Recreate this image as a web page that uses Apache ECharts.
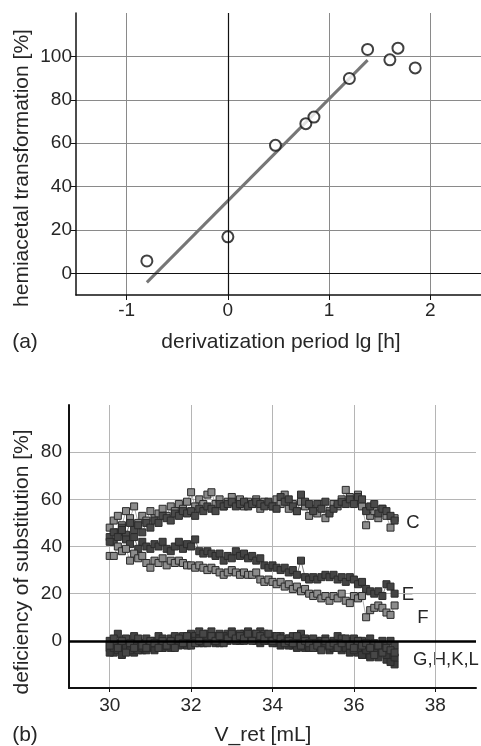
<!DOCTYPE html>
<html>
<head>
<meta charset="utf-8">
<script src="https://cdn.jsdelivr.net/npm/echarts@6/dist/echarts.min.js"></script>
<style>html,body{margin:0;padding:0;background:#fff;}#c{width:481px;height:746px;}</style>
</head>
<body>
<div id="c"></div>
<script>
// ---- Panel (a) data ----
var aPeriod = [-0.80, 0.00, 0.47, 0.77, 0.85, 1.20, 1.38, 1.60, 1.68, 1.85];
var aTransform = [5.7, 16.8, 59, 69, 72, 89.8, 103.2, 98.4, 103.8, 94.7];
var aFitX = [-0.80, 1.38];
var aFitY = [-4.2, 98.3];
var aXTicks = [-1, 0, 1, 2];
var aYTicks = [0, 20, 40, 60, 80, 100];

// ---- Panel (b) data ----
var bVret = [30.0,30.1,30.2,30.3,30.4,30.5,30.6,30.7,30.8,30.9,31.0,31.1,31.2,31.3,31.4,31.5,31.6,31.7,31.8,31.9,32.0,32.1,32.2,32.3,32.4,32.5,32.6,32.7,32.8,32.9,33.0,33.1,33.2,33.3,33.4,33.5,33.6,33.7,33.8,33.9,34.0,34.1,34.2,34.3,34.4,34.5,34.6,34.7,34.8,34.9,35.0,35.1,35.2,35.3,35.4,35.5,35.6,35.7,35.8,35.9,36.0,36.1,36.2,36.3,36.4,36.5,36.6,36.7,36.8,36.9,37.0];
var bC1 = [48,51,53,49,55,52,57,50,53,51,55,52,54,56,53,57,55,58,56,59,63,57,60,58,62,63,58,60,57,59,61,58,60,57,59,58,60,56,59,58,57,60,58,62,56,58,55,59,57,53,56,54,58,52,55,58,57,60,64,61,59,62,57,49,53,55,52,56,53,48,52];
var bC2 = [44,42,46,48,45,50,47,49,46,50,48,51,50,53,52,51,54,53,55,54,55,53,56,55,57,56,55,58,57,58,59,57,58,59,57,58,59,58,57,59,57,56,61,59,60,57,55,62,59,58,55,58,56,59,54,56,58,59,58,60,58,61,60,55,57,58,54,56,55,53,51];
var bE = [42,46,44,47,43,41,44,39,42,40,39,41,40,42,39,38,40,42,39,41,40,43,38,37,38,37,36,37,34,36,35,38,36,37,35,36,34,35,32,31,32,31,30,31,29,30,28,34,27,26,27,26,27,28,27,28,26,27,25,27,26,24,25,22,21,20,21,19,24,23,20];
var bF = [36,36,40,38,39,34,37,35,36,33,31,34,33,35,32,34,33,34,33,32,32,31,32,31,30,31,30,29,28,29,30,29,28,29,28,28,29,26,25,26,25,24,25,23,24,22,23,21,22,20,19,20,18,19,17,19,18,20,17,16,19,18,19,10,13,14,15,14,12,11,15];
var bG = [-3,-5,-1,-4,-2,-3,-5,-2,-4,-1,-3,-2,0,-3,-1,-2,0,-1,1,-2,0,1,-1,2,0,1,-1,1,0,2,1,2,0,3,1,2,0,1,2,0,1,-1,0,-1,1,-2,0,-1,-3,-1,-2,0,-2,-1,-3,-2,0,-3,-1,-4,-2,-5,-3,-6,-4,-2,-5,-3,-8,-6,-10];
var bH = [0,-2,3,-1,1,-2,2,0,-1,1,-1,0,2,1,-1,1,2,0,2,1,3,2,4,1,3,4,2,3,1,3,4,2,3,2,4,3,2,4,3,1,2,1,2,0,1,2,0,3,1,0,1,-1,0,1,-1,0,2,1,-1,0,1,-1,0,-2,1,-1,-3,0,-2,0,-2];
var bK = [-5,-3,-4,-6,-3,-4,-2,-4,-3,-4,-2,-4,-1,-3,-2,-3,-1,-2,-1,0,-1,0,1,-1,1,0,1,-1,2,0,1,0,1,0,2,1,1,-1,0,1,-1,0,-2,-1,-2,-1,-3,-1,-2,-3,-1,-3,-1,-2,-4,-3,-2,-4,-3,-5,-4,-3,-6,-4,-7,-5,-7,-4,-6,-9,-7];
var bL = [-2,1,-3,0,-5,-1,-3,1,-2,-3,0,-1,-3,0,-2,0,-3,1,-1,2,-2,-1,0,3,-1,2,0,2,-1,1,3,1,2,1,3,0,3,2,1,3,0,2,1,-1,0,-1,2,-2,0,-1,-3,-2,-4,0,-2,-1,-3,-1,1,-2,-3,0,-2,-1,-3,-6,-2,-5,-3,-4,-5];
var bXTicks = [30, 32, 34, 36, 38];
var bYTicks = [0, 20, 40, 60, 80];

function pairs(xs, ys) { return xs.map(function (x, i) { return [x, ys[i]]; }); }

var FONT = 'Liberation Sans, Arial, sans-serif';
var TXT = '#262626';
var chart = echarts.init(document.getElementById('c'), null, { renderer: 'canvas' });

function bSeries(name, ys, fill) {
  return {
    name: name, type: 'line', xAxisIndex: 1, yAxisIndex: 1,
    data: pairs(bVret, ys),
    symbol: 'rect', symbolSize: 7, showSymbol: true,
    lineStyle: { color: fill, width: 1, opacity: 0.7 },
    itemStyle: { color: fill, borderColor: '#2a2a2a', borderWidth: 1 },
    animation: false, silent: true
  };
}

function txt(text, x, y, size, rot) {
  var g = { type: 'text', x: x, y: y, silent: true,
    style: { text: text, fill: TXT, font: size + 'px ' + FONT, textAlign: 'center', textVerticalAlign: 'middle' } };
  if (rot) { g.rotation = rot; }
  return g;
}

var option = {
  animation: false,
  backgroundColor: '#fff',
  grid: [
    { left: 76, top: 13, width: 408, height: 282 },
    { left: 69, top: 405, width: 407, height: 283 }
  ],
  xAxis: [
    {
      gridIndex: 0, type: 'value', min: -1.5, max: 2.5,
      axisLine: { onZero: false, lineStyle: { color: '#111', width: 1.5 } },
      axisTick: { show: true, length: 5, customValues: aXTicks, lineStyle: { color: '#111' } },
      axisLabel: { customValues: aXTicks, color: TXT, fontSize: 19, fontFamily: FONT, margin: 6 },
      splitLine: { show: true, lineStyle: { color: '#8a8a8a', width: 1 } }
    },
    {
      gridIndex: 1, type: 'value', min: 29, max: 39,
      axisLine: { onZero: false, lineStyle: { color: '#111', width: 2 } },
      axisTick: { show: true, length: 4, customValues: bXTicks, lineStyle: { color: '#111' } },
      axisLabel: { customValues: bXTicks, color: TXT, fontSize: 19, fontFamily: FONT, margin: 8 },
      splitLine: { show: true, lineStyle: { color: '#b5b5b5', width: 1 } }
    }
  ],
  yAxis: [
    {
      gridIndex: 0, type: 'value', min: -10, max: 120,
      axisLine: { onZero: false, lineStyle: { color: '#111', width: 1.5 } },
      axisTick: { show: true, length: 5, customValues: aYTicks, lineStyle: { color: '#111' } },
      axisLabel: { customValues: aYTicks, color: TXT, fontSize: 19, fontFamily: FONT, margin: 4 },
      splitLine: { show: true, lineStyle: { color: '#8a8a8a', width: 1 } }
    },
    {
      gridIndex: 1, type: 'value', min: -20, max: 100,
      axisLine: { onZero: false, lineStyle: { color: '#111', width: 2 } },
      axisTick: { show: false, customValues: bYTicks },
      axisLabel: { customValues: bYTicks, color: TXT, fontSize: 19, fontFamily: FONT, margin: 7 },
      splitLine: { show: true, lineStyle: { color: '#b5b5b5', width: 1 } }
    }
  ],
  series: [
    {
      name: 'fit', type: 'line', xAxisIndex: 0, yAxisIndex: 0,
      data: pairs(aFitX, aFitY), symbol: 'none',
      lineStyle: { color: '#767676', width: 3 },
      markLine: {
        silent: true, symbol: 'none', label: { show: false },
        lineStyle: { color: '#111', width: 1.2, type: 'solid' },
        data: [{ xAxis: 0 }, { yAxis: 0 }]
      },
      z: 3
    },
    {
      name: 'hemiacetal', type: 'scatter', xAxisIndex: 0, yAxisIndex: 0,
      data: pairs(aPeriod, aTransform), symbol: 'circle', symbolSize: 11,
      itemStyle: { color: '#fff', borderColor: '#111', borderWidth: 2 },
      z: 4
    },
    bSeries('C1', bC1, '#8c8c8c'),
    bSeries('C2', bC2, '#4a4a4a'),
    bSeries('E', bE, '#444444'),
    bSeries('F', bF, '#8c8c8c'),
    bSeries('G', bG, '#3c3c3c'),
    bSeries('H', bH, '#444444'),
    bSeries('K', bK, '#3a3a3a'),
    bSeries('L', bL, '#474747'),
    {
      name: 'zero', type: 'line', xAxisIndex: 1, yAxisIndex: 1, data: [],
      markLine: {
        silent: true, symbol: 'none', label: { show: false },
        lineStyle: { color: '#000', width: 2.5, type: 'solid' },
        data: [{ yAxis: 0 }]
      },
      z: 1
    }
  ],
  graphic: [
    txt('hemiacetal transformation [%]', 22, 168, 21, Math.PI / 2),
    txt('derivatization period lg [h]', 281, 342, 21),
    txt('(a)', 25, 342, 21),
    txt('deficiency of substitution [%]', 22, 562, 21, Math.PI / 2),
    txt('V_ret [mL]', 263, 735, 21),
    txt('(b)', 25, 735, 21),
    txt('C', 413, 523, 18.5),
    txt('E', 408, 595, 18.5),
    txt('F', 423, 618, 18.5),
    txt('G,H,K,L', 446, 660, 18.5)
  ]
};
chart.setOption(option);
</script>
</body>
</html>
